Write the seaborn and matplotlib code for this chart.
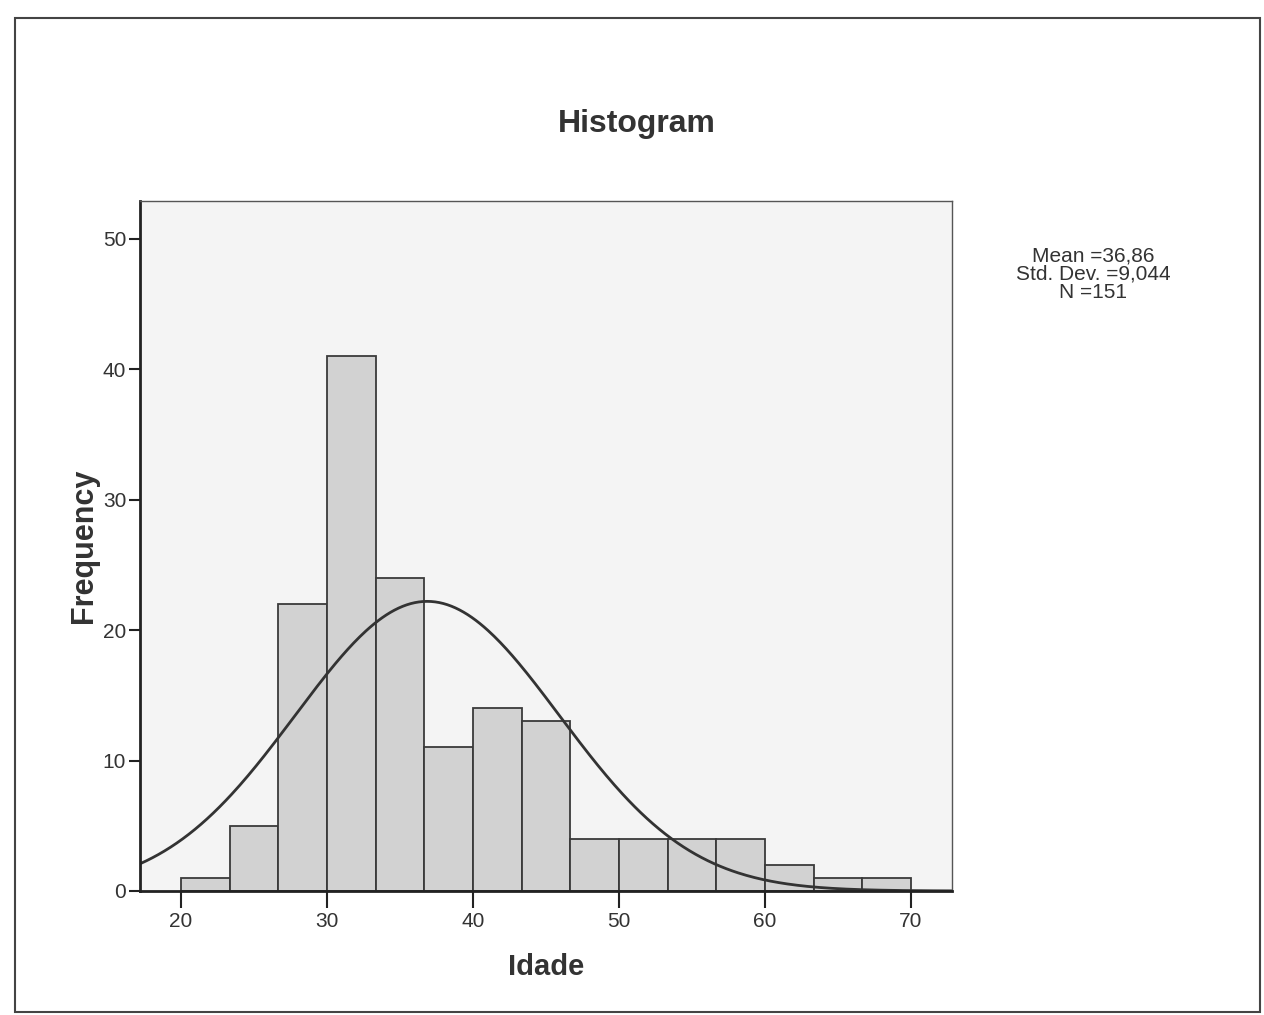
import numpy as np
import pandas as pd
import matplotlib
matplotlib.use("Agg")
import matplotlib.pyplot as plt
import seaborn as sns
from matplotlib.patches import Rectangle

# bin counts (15 bins from 20 to 70)
bin_start, bin_end, n_bins = 20, 70, 15
counts = [1, 5, 22, 41, 24, 11, 14, 13, 4, 4, 4, 4, 2, 1, 1]
mean_age = 36.86
sd_age = 9.044
n_total = 151

sns.set_style("white")
plt.rcParams['font.family'] = ['Liberation Sans', 'DejaVu Sans']

fig = plt.figure(figsize=(12.64, 10.15), dpi=100)
ax = fig.add_axes([0.1108, 0.1222, 0.6424, 0.6798])
ax.set_facecolor("#f4f4f4")

bw = (bin_end - bin_start) / n_bins
centers = bin_start + bw * (np.arange(n_bins) + 0.5)
df = pd.DataFrame({"Idade": centers, "count": counts})
sns.histplot(data=df, x="Idade", weights="count", binwidth=bw, binrange=(bin_start, bin_end),
             ax=ax, color="#d2d2d2", alpha=1, edgecolor="#3a3a3a", linewidth=1.3)

# normal curve scaled to counts
xs = np.linspace(17.19, 72.81, 400)
ys = n_total * bw * np.exp(-0.5 * ((xs - mean_age) / sd_age) ** 2) / (sd_age * np.sqrt(2 * np.pi))
sns.lineplot(x=xs, y=ys, ax=ax, color="#333333", linewidth=2)

ax.set_xlim(17.19, 72.81)
ax.set_ylim(0, 52.9)
ax.set_xticks([20, 30, 40, 50, 60, 70])
ax.set_yticks([0, 10, 20, 30, 40, 50])
ax.tick_params(axis="x", bottom=True, direction="out", length=12, width=1.5, color="#222222",
               labelsize=15, labelcolor="#333333", pad=3)
ax.tick_params(axis="y", left=True, direction="out", length=8, width=1.5, color="#222222",
               labelsize=15, labelcolor="#333333", pad=2)
for side in ["left", "bottom"]:
    ax.spines[side].set_color("#222222")
    ax.spines[side].set_linewidth(2)
for side in ["top", "right"]:
    ax.spines[side].set_color("#555555")
    ax.spines[side].set_linewidth(1)

ax.set_xlabel("Idade", fontsize=21, fontweight="bold", color="#333333", labelpad=16)
ax.set_ylabel("Frequency", fontsize=22, fontweight="bold", color="#333333", labelpad=3)
fig.text(0.504, 0.878, "Histogram", ha="center", va="center",
         fontsize=23, fontweight="bold", color="#333333")

fig.text(0.865, 0.730, "Mean =36,86\nStd. Dev. =9,044\nN =151", ha="center", va="center",
         fontsize=15, color="#333333", linespacing=0.95)

# outer frame
fig.patches.append(Rectangle((0.012, 0.003), 0.985, 0.979, transform=fig.transFigure,
                             fill=False, edgecolor="#444444", linewidth=1.5))

fig.savefig("out.png", dpi=100)
